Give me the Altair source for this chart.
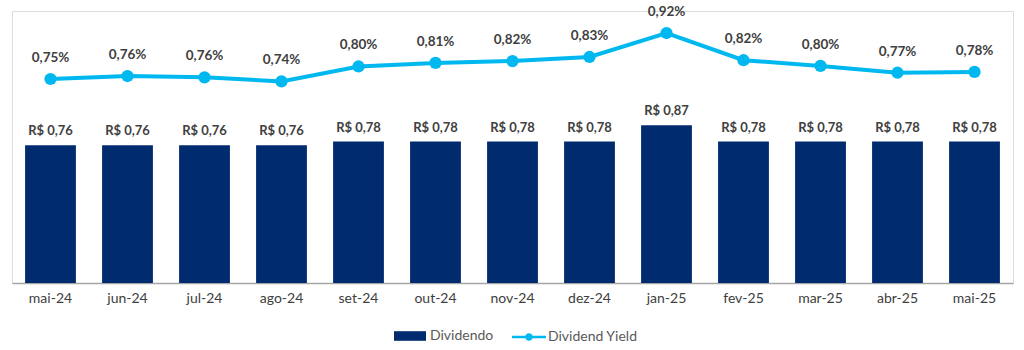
import altair as alt
import pandas as pd

meses = ["mai-24", "jun-24", "jul-24", "ago-24", "set-24", "out-24", "nov-24",
         "dez-24", "jan-25", "fev-25", "mar-25", "abr-25", "mai-25"]
dividendo = [0.76, 0.76, 0.76, 0.76, 0.78, 0.78, 0.78, 0.78, 0.87, 0.78, 0.78, 0.78, 0.78]
dividend_yield = [0.750, 0.761, 0.756, 0.741, 0.796, 0.809, 0.816, 0.831, 0.919,
                  0.819, 0.798, 0.773, 0.776]

df = pd.DataFrame({
    "mes": meses,
    "div": dividendo,
    "dy": dividend_yield,
    "s1": ["Dividendo"] * len(meses),
    "s2": ["Dividend Yield"] * len(meses),
})

NAVY = "#002B6F"
CYAN = "#00B8F0"
TXT = "#404040"
FONT = "Lato"

x = alt.X("mes:N", sort=meses, title=None,
          scale=alt.Scale(paddingInner=0.34, paddingOuter=0.17),
          axis=alt.Axis(labelAngle=0, ticks=False, domainColor="#A6A6A6",
                        domainWidth=1.3, labelColor=TXT, labelFont=FONT,
                        labelFontSize=14, labelPadding=8, grid=False))

base = alt.Chart(df)

bars = base.mark_bar(color=NAVY).encode(
    x=x,
    y=alt.Y("div:Q", scale=alt.Scale(domain=[0, 1.5], nice=False), axis=None),
    color=alt.Color("s1:N", scale=alt.Scale(domain=["Dividendo"], range=[NAVY]),
                    legend=alt.Legend(title=None, orient="none", legendX=382, legendY=309,
                                      symbolType="M-1,-0.3H1V0.3H-1Z", symbolSize=1024,
                                      symbolStrokeWidth=0, labelOffset=4,
                                      labelFont=FONT, labelFontSize=14,
                                      labelColor="#595959", padding=0)),
)
bar_labels = base.transform_calculate(
    lbl="'R$ ' + replace(format(datum.div, '.2f'), '.', ',')"
).mark_text(baseline="bottom", dy=-7, font=FONT, fontWeight="bold",
            fontSize=13, color=TXT).encode(
    x=alt.X("mes:N", sort=meses),
    y=alt.Y("div:Q", scale=alt.Scale(domain=[0, 1.5], nice=False), axis=None),
    text="lbl:N",
)
bar_layer = alt.layer(bars, bar_labels)

line = base.mark_line(strokeWidth=4).encode(
    x=alt.X("mes:N", sort=meses),
    y=alt.Y("dy:Q", scale=alt.Scale(domain=[0, 1.0], nice=False), axis=None),
    color=alt.Color("s2:N", scale=alt.Scale(domain=["Dividend Yield"], range=[CYAN]),
                    legend=alt.Legend(title=None, orient="none", legendX=500, legendY=309,
                                      symbolType="M-1,-0.07H1V0.07H-1Z M0.22,0 A0.22,0.22 0 1,1 -0.22,0 A0.22,0.22 0 1,1 0.22,0Z",
                                      symbolSize=1156, symbolFillColor=CYAN,
                                      symbolStrokeWidth=0, labelOffset=2,
                                      labelFont=FONT, labelFontSize=14,
                                      labelColor="#595959", padding=0)),
)
points = base.mark_circle(size=150, color=CYAN, opacity=1).encode(
    x=alt.X("mes:N", sort=meses),
    y=alt.Y("dy:Q", scale=alt.Scale(domain=[0, 1.0], nice=False), axis=None),
)
line_labels = base.transform_calculate(
    lbl="replace(format(datum.dy, '.2f'), '.', ',') + '%'"
).mark_text(baseline="bottom", dy=-14, font=FONT, fontWeight="bold",
            fontSize=13.5, color=TXT).encode(
    x=alt.X("mes:N", sort=meses),
    y=alt.Y("dy:Q", scale=alt.Scale(domain=[0, 1.0], nice=False), axis=None),
    text="lbl:N",
)
line_layer = alt.layer(line, points, line_labels)

chart = alt.layer(bar_layer, line_layer).resolve_scale(
    y="independent", color="independent"
).resolve_legend(color="independent").properties(
    width=1001, height=272,
    autosize=alt.AutoSizeParams(type="none"),
    padding={"left": 12, "top": 11, "right": 11, "bottom": 67},
).configure_view(stroke=None).configure(background="white")

chart.save("out.html", embed_options={"renderer": "svg", "actions": False})
